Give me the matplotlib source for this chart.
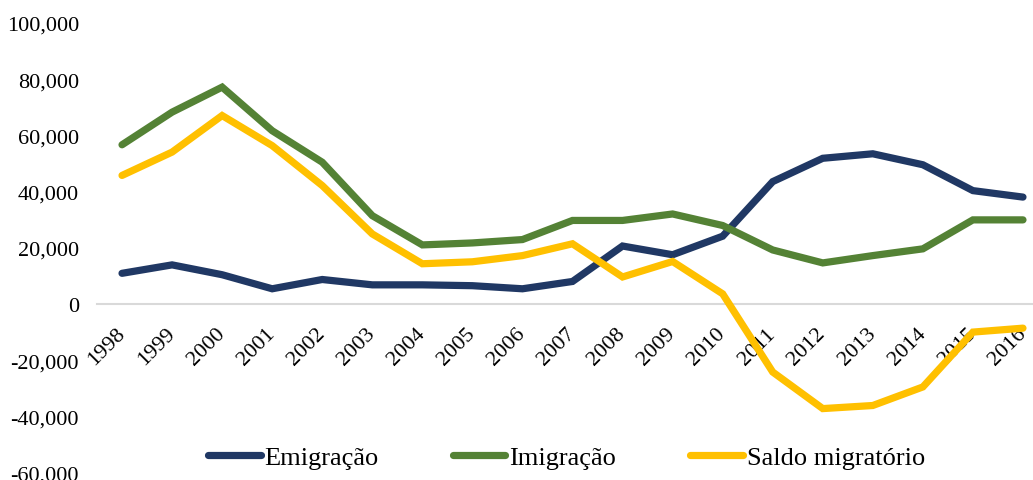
import matplotlib
matplotlib.use("Agg")
import matplotlib.pyplot as plt
from matplotlib.ticker import FuncFormatter, MultipleLocator

years = ["1998", "1999", "2000", "2001", "2002", "2003", "2004", "2005", "2006", "2007",
         "2008", "2009", "2010", "2011", "2012", "2013", "2014", "2015", "2016"]
emigracao = [11000, 14000, 10500, 5500, 8800, 6900, 6900, 6600, 5500, 8100,
             20700, 17600, 24200, 43600, 51900, 53500, 49600, 40400, 38100]
imigracao = [56700, 68300, 77200, 61700, 50500, 31500, 21100, 21800, 23000, 29800,
             29800, 32100, 28000, 19300, 14700, 17300, 19700, 30000, 30000]
saldo = [45800, 54100, 67100, 56400, 42200, 25000, 14400, 15100, 17300, 21500,
         9700, 15200, 3700, -24100, -37100, -36000, -29400, -9900, -8500]

plt.rcParams['font.family'] = ['Liberation Serif', 'DejaVu Serif']

fig = plt.figure(figsize=(10.33, 4.81), dpi=100)
ax = fig.add_axes([97/1033, 7/481, 951/1033, 450/481])

x = list(range(len(years)))
lw = 5.2
ax.plot(x, emigracao, color='#203864', lw=lw, solid_capstyle='round', solid_joinstyle='miter', label='Emigração', zorder=3)
ax.plot(x, imigracao, color='#548235', lw=lw, solid_capstyle='round', solid_joinstyle='miter', label='Imigração', zorder=3)
ax.plot(x, saldo, color='#FFC000', lw=lw, solid_capstyle='round', solid_joinstyle='miter', label='Saldo migratório', zorder=3)

ax.set_xlim(-0.5, len(years) - 0.5)
ax.set_ylim(-60000, 100000)
ax.yaxis.set_major_locator(MultipleLocator(20000))
ax.yaxis.set_major_formatter(FuncFormatter(lambda v, p: f"{int(v):,}"))

for s in ['top', 'right', 'left']:
    ax.spines[s].set_visible(False)
ax.spines['bottom'].set_position(('data', 0))
ax.spines['bottom'].set_color('#d9d9d9')
ax.spines['bottom'].set_linewidth(1.5)
ax.spines['bottom'].set_zorder(1)

ax.set_xticks(x)
ax.set_xticklabels(years, rotation=45, ha='right', va='center', rotation_mode='anchor')
ax.tick_params(axis='x', length=0, pad=19, labelsize=16)
ax.tick_params(axis='y', length=0, pad=13, labelsize=16)

leg = ax.legend(loc='center', bbox_to_anchor=(0.5 - 6/951, 16/450), ncol=3, frameon=False,
                fontsize=19, handlelength=2.0, handletextpad=0.15, columnspacing=2.8,
                borderaxespad=0)
for h in leg.get_lines():
    h.set_solid_capstyle('round')

fig.savefig('out.png', dpi=100)
